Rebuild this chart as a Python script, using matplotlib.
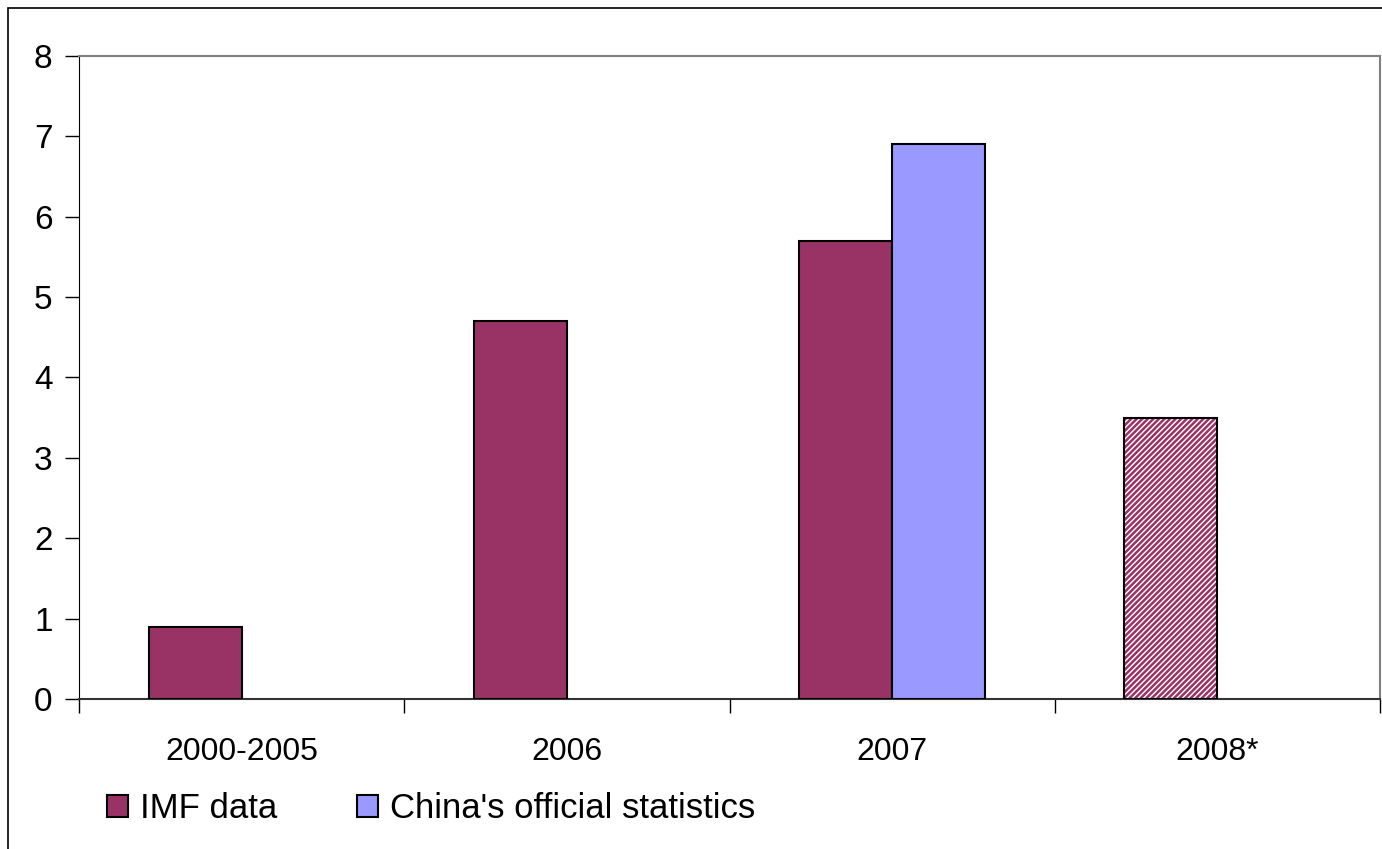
import matplotlib.pyplot as plt
from matplotlib.patches import Patch, Rectangle
import numpy as np

plt.rcParams['font.family'] = ['Liberation Sans', 'DejaVu Sans']
plt.rcParams['hatch.linewidth'] = 1.8

categories = ['2000-2005', '2006', '2007', '2008*']
imf_values = [0.9, 4.7, 5.7, 3.5]
china_values = [np.nan, np.nan, 6.9, np.nan]
projected = [False, False, False, True]

imf_color = '#993366'
china_color = '#9999FF'

fig = plt.figure(figsize=(13.82, 8.49), dpi=100)
ax = fig.add_axes([79 / 1382, 1 - 699 / 849, 1301 / 1382, 643 / 849])

x = np.arange(len(categories))
w = 0.286
imf = np.array(imf_values)
china = np.array(china_values)
proj = np.array(projected)

# actual IMF bars
ax.bar(x[~proj] - w / 2, imf[~proj], w, color=imf_color,
       edgecolor='black', linewidth=1.5, zorder=3)
# projected IMF bar, hatched
ax.bar(x[proj] - w / 2, imf[proj], w, facecolor='white',
       edgecolor=imf_color, hatch='//////', linewidth=0, zorder=3)
ax.bar(x[proj] - w / 2, imf[proj], w, fill=False,
       edgecolor='black', linewidth=1.5, zorder=4)
ax.bar(x + w / 2, china, w, color=china_color,
       edgecolor='black', linewidth=1.5, zorder=3)

ax.set_xlim(-0.5, len(categories) - 0.5)
ax.set_ylim(0, 8)
ax.set_yticks(range(0, 9))
ax.tick_params(axis='y', labelsize=24, length=10, width=1, pad=9,
               direction='out')

ax.set_xticks(x)
ax.set_xticklabels(categories)
ax.set_xticks(np.arange(len(categories) + 1) - 0.5, minor=True)
ax.tick_params(axis='x', which='major', length=0, labelsize=23, pad=27)
ax.tick_params(axis='x', which='minor', length=10, width=1, direction='out')

ax.spines['left'].set_color('black')
ax.spines['bottom'].set_color('#333333')
ax.spines['bottom'].set_linewidth(1.5)
for side in ['top', 'right']:
    ax.spines[side].set_color('#808080')
    ax.spines[side].set_linewidth(1.5)

handles = [Patch(facecolor=imf_color, edgecolor='black', linewidth=1.5),
           Patch(facecolor=china_color, edgecolor='black', linewidth=1.5)]
fig.legend(handles, ['IMF data', "China's official statistics"],
           loc='center left', bbox_to_anchor=(107 / 1382, 1 - 809 / 849),
           ncol=2, frameon=False, fontsize=25, handlelength=0.6,
           handleheight=0.6, handletextpad=0.35, columnspacing=2.3,
           borderpad=0, borderaxespad=0)

# outer chart frame
fig.patches.append(Rectangle((8 / 1382, -0.1), 2, 1 - 8 / 849 + 0.1,
                             transform=fig.transFigure, fill=False,
                             edgecolor='black', linewidth=1.2))

fig.savefig('out.png', dpi=100)
